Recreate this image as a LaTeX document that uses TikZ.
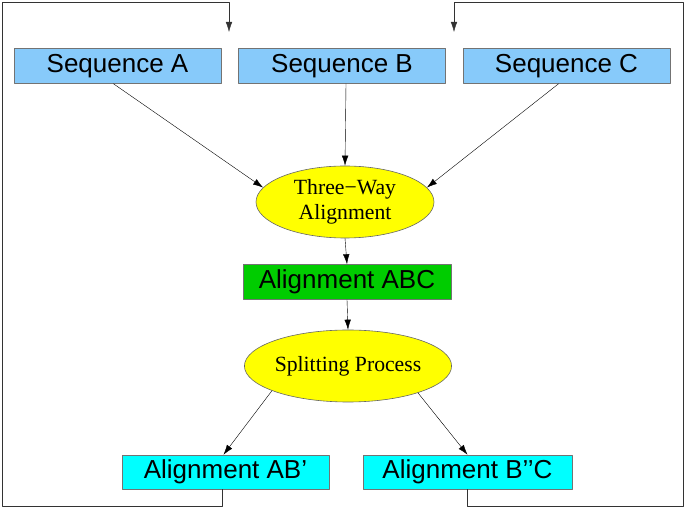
\documentclass[tikz,border=0pt]{standalone}
\usepackage{fontspec}
\setmainfont{Liberation Serif}
\newfontfamily\boxfont{Liberation Sans}
\usetikzlibrary{shapes.geometric,arrows.meta}
\definecolor{seqblue}{RGB}{135,202,250}
\definecolor{abcgreen}{RGB}{0,204,0}
\definecolor{splitcyan}{RGB}{0,255,255}
\definecolor{procyellow}{RGB}{255,255,0}

\begin{document}
\begin{tikzpicture}[x=1pt,y=1pt,line cap=round,line join=round,
    >={Latex[length=10pt,width=6.5pt]},
    box/.style={draw=black!55,line width=0.6pt,inner sep=0pt,minimum width=207pt,minimum height=35pt,
        font=\boxfont\fontsize{26}{30}\selectfont},
    proc/.style={ellipse,draw=black!60,fill=procyellow,line width=0.6pt,inner sep=0pt,
        minimum width=178pt,minimum height=72pt,align=center,font=\fontsize{21.7}{25}\selectfont}]
    \useasboundingbox (0,0) rectangle (685,508);
    \node[box,fill=seqblue] (seqA) at (117.5,442) {Sequence A};
    \node[box,fill=seqblue] (seqB) at (342,442) {Sequence B};
    \node[box,fill=seqblue] (seqC) at (566.5,442) {Sequence C};
    \node[proc] (three) at (345,306) {Three−Way\\Alignment};
    \node[box,fill=abcgreen,minimum width=208pt] (abc) at (347,226) {Alignment ABC};
    \node[proc] (split) at (348,142) {Splitting Process};
    \node[box,fill=splitcyan,minimum height=34pt] (ab) at (225.5,36) {Alignment AB’};
    \node[box,fill=splitcyan,minimum width=209pt,minimum height=34pt] (bc) at (467.5,36) {Alignment B’’C};
    \draw[->] ([xshift=-4pt]seqA.south) -- (three.170);
    \draw[->] ([xshift=4pt]seqB.south) -- (three.north);
    \draw[->] ([xshift=-8pt]seqC.south) -- (three.10);
    \draw[->] (three.south) -- (abc.north);
    \draw[->] (abc.south) -- (split.north);
    \draw[->] (split.198) -- ([xshift=-2pt]ab.north);
    \draw[->] (split.339) -- (bc.north);
    % feedback to the inputs
    \coordinate (inA) at (229,476);
    \coordinate (inC) at (454,476);
    \draw[->,black!80] ([xshift=-3.5pt]ab.south) |- (2,2) |- (229,506) -- (inA);
    \draw[->,black!80] (bc.south) |- (683,2) |- (454,506) -- (inC);
\end{tikzpicture}
\end{document}
